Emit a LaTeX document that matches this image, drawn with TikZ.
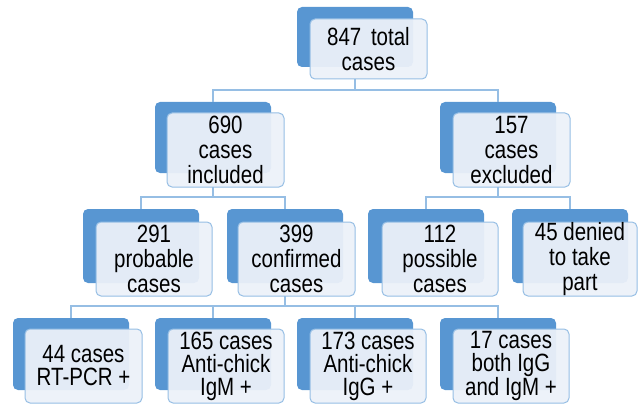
\documentclass[tikz,border=0pt]{standalone}
\usepackage{fontspec}
\setmainfont{Liberation Sans}[FakeStretch=0.82]
\definecolor{backblue}{RGB}{88,150,210}
\definecolor{frontfill}{RGB}{236,241,249}
\definecolor{edgeblue}{RGB}{150,190,228}
\begin{document}
\begin{tikzpicture}[x=1pt,y=-1pt,
  backbox/.style={fill=backblue, rounded corners=5pt, minimum width=116pt, minimum height=72pt, anchor=north west, inner sep=0pt, outer sep=0pt},
  frontbox/.style={fill=frontfill, fill opacity=0.94, text opacity=1, draw=edgeblue, line width=1pt, rounded corners=5pt, minimum width=116pt, minimum height=74pt, anchor=north west, align=center, inner sep=0pt, outer sep=0pt, font=\fontsize{25}{25}\selectfont},
  conn/.style={draw=edgeblue, line width=1.2pt}]
\useasboundingbox (0,0) rectangle (638,404);
% level 0
\node[backbox, minimum height=60pt] (topb) at (297,7) {};
\node[frontbox, minimum height=60pt, minimum width=117pt] (top) at (310,19) {847\hspace{4pt} total\\cases};
% level 1
\node[backbox, minimum height=71pt] (incb) at (155,102) {};
\node[frontbox, minimum width=117pt] (inc) at (167,113) {690\\cases\\included};
\node[backbox, minimum height=71pt] (excb) at (440,102) {};
\node[frontbox, minimum width=117pt] (exc) at (453,113) {157\\cases\\excluded};
% level 2
\node[backbox, minimum height=74pt] (probb) at (83,209) {};
\node[frontbox] (prob) at (96,222) {291\\probable\\cases};
\node[backbox, minimum height=74pt] (confb) at (227,209) {};
\node[frontbox, minimum width=117pt] (conf) at (238,222) {399\\confirmed\\cases};
\node[backbox, minimum height=74pt] (possb) at (368,209) {};
\node[frontbox] (poss) at (382,222) {112\\possible\\cases};
\node[backbox, minimum height=74pt] (denb) at (512,209) {};
\node[frontbox, minimum width=114pt] (den) at (523,222) {45 denied\\to take\\part};
% level 3
\node[backbox] (rtb) at (13,318) {};
\node[frontbox, minimum width=117pt, font=\fontsize{25}{23}\selectfont] (rt) at (25,329) {44 cases\\RT-PCR +};
\node[backbox] (igmb) at (155,318) {};
\node[frontbox, font=\fontsize{25}{23}\selectfont] (igm) at (168,329) {165 cases\\Anti-chick\\IgM +};
\node[backbox] (iggb) at (297,318) {};
\node[frontbox, font=\fontsize{25}{23}\selectfont] (igg) at (310,329) {173 cases\\Anti-chick\\IgG +};
\node[backbox] (bothb) at (440,318) {};
\node[frontbox, font=\fontsize{25}{23}\selectfont] (both) at (453,329) {17 cases\\both IgG\\and IgM +};
% buses
\coordinate (bus1) at (0,90);
\coordinate (bus2) at (0,197);
\coordinate (bus3) at (0,306);
% connectors
\draw[conn] (top.south -| topb.center) -- (topb.center |- bus1);
\draw[conn] (incb.north) -- (incb.north |- bus1) -- (excb.north |- bus1) -- (excb.north);
\draw[conn] (inc.south -| incb.center) -- (incb.center |- bus2);
\draw[conn] (probb.north) -- (probb.north |- bus2) -- (confb.north |- bus2) -- (confb.north);
\draw[conn] (exc.south -| excb.center) -- (excb.center |- bus2);
\draw[conn] (possb.north) -- (possb.north |- bus2) -- (denb.north |- bus2) -- (denb.north);
\draw[conn] (conf.south -| confb.center) -- (confb.center |- bus3);
\draw[conn] (rtb.north) -- (rtb.north |- bus3) -- (bothb.north |- bus3) -- (bothb.north);
\draw[conn] (igmb.north) -- (igmb.north |- bus3);
\draw[conn] (iggb.north) -- (iggb.north |- bus3);
\end{tikzpicture}
\end{document}
